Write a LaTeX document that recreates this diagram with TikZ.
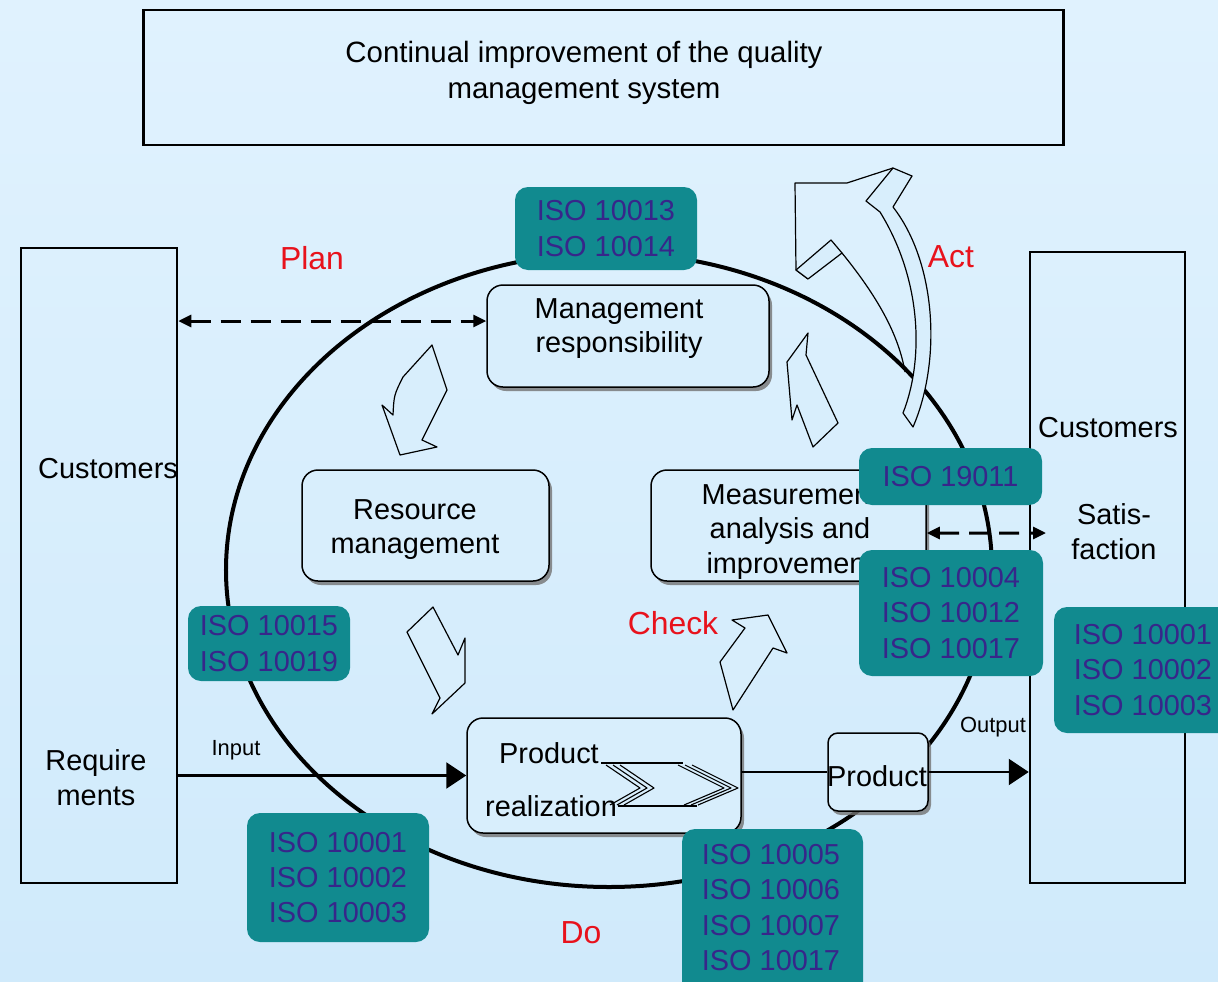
\documentclass[tikz,border=0pt]{standalone}
\usepackage{fontspec}
\setmainfont{Liberation Sans}
\usetikzlibrary{arrows.meta,shadows}
\definecolor{bgtop}{RGB}{224,242,254}
\definecolor{bgbot}{RGB}{208,234,251}
\definecolor{bgmid}{RGB}{216,238,252}
\definecolor{tealbox}{RGB}{17,138,143}
\definecolor{isotext}{RGB}{55,38,138}
\definecolor{pdcared}{RGB}{232,18,28}
\begin{document}
\begin{tikzpicture}[x=1bp,y=-1bp,
  isobox/.style={fill=tealbox,rounded corners=13bp,text=isotext,font=\fontsize{29}{35.5}\selectfont,align=center,inner sep=0pt},
  procbox/.style={draw=black,line width=1.5bp,fill=bgmid,rounded corners=16bp,inner sep=0pt,
    drop shadow={shadow xshift=3bp,shadow yshift=-4bp,fill=black!55,opacity=0.8}},
  plaintxt/.style={font=\fontsize{29}{35}\selectfont,align=center,inner sep=0pt},
  isotxt/.style={font=\fontsize{29}{35.5}\selectfont,text=isotext,align=center,inner sep=0pt},
  smalllbl/.style={font=\fontsize{22}{26}\selectfont,inner sep=0pt},
  phaselbl/.style={font=\fontsize{32}{38}\selectfont,text=pdcared,inner sep=0pt},
  custbox/.style={draw=black,line width=2.5bp,inner sep=0pt},
  hollowarrow/.style={draw=black,line width=1.2bp,fill=bgmid,line join=round},
  bigtip/.style={-{Triangle[length=20bp,width=26bp]}},
  dashtip/.style={{Triangle[length=13bp,width=12bp]}-{Triangle[length=13bp,width=12bp]},dash pattern=on 20bp off 10bp,line width=3bp},
]
\useasboundingbox (0,0) rectangle (1218,982);
\clip (0,0) rectangle (1218,982);
\shade[top color=bgtop,bottom color=bgbot] (0,0) rectangle (1218,982);

% top box
\node[draw=black,line width=2.5bp,minimum width=920bp,minimum height=135bp,inner sep=0pt] (topbox) at (603.5,77.5) {};
\node[font=\fontsize{29.5}{36}\selectfont,align=center,inner sep=0pt] (toptext) at (584,73) {Continual improvement of the quality\\management system};

% customers boxes
\node[custbox,minimum width=156bp,minimum height=635bp] (custL) at (99,565.5) {};
\node[custbox,minimum width=155bp,minimum height=631bp] (custR) at (1107.5,567.5) {};
\node[plaintxt] (custLtxt) at (108,469) {Customers};
\node[plaintxt] (reqtxt) at (96,778) {Require\\ments};
\node[plaintxt] (custRtxt) at (1108,428) {Customers};
\node[plaintxt] (satistxt) at (1114,532) {Satis-\\faction};

% cycle
\draw[line width=4bp] (609,570) ellipse [x radius=383bp,y radius=317bp];

% Act arrow (3D curved arrow)
\draw[line width=1.2bp,line join=round] (893,168) -- (847,183) -- (795,183) -- (796,270) -- (808,279);
\filldraw[hollowarrow] (796,270) -- (831,240) -- (842,253) -- (808,279) -- cycle;
\draw[line width=1.2bp] (842,253) .. controls (872,290) and (898,330) .. (905,372);
\filldraw[hollowarrow] (903,413) .. controls (924,360) and (922,280) .. (880,212) -- (866,201) -- (893,168) -- (912,176) -- (893,207) .. controls (936,262) and (942,360) .. (913,427) -- cycle;

% cycle arrows
\filldraw[hollowarrow] (432,345) -- (447,390) -- (422,440) -- (437,447) -- (400,455) -- (382,405) -- (393,415) .. controls (394,395) .. (403,377) -- cycle;
\filldraw[hollowarrow] (808,333) -- (787,362) -- (792,420) -- (797,405) -- (813,447) -- (838,423) -- (806,355) -- cycle;
\filldraw[hollowarrow] (433,607) -- (407,632) -- (440,698) -- (432,714) -- (465,683) -- (465,638) -- (458,655) -- cycle;
\filldraw[hollowarrow] (733,710) -- (720,662) -- (745,628) -- (732,620) -- (768,615) -- (787,653) -- (773,648) -- cycle;

% process boxes
\node[procbox,minimum width=282bp,minimum height=102bp] (mgmt) at (628,336) {};
\node[plaintxt] (mgmttxt) at (619,328.5) {Management\\responsibility};
\node[procbox,minimum width=247bp,minimum height=111bp] (resmgmt) at (425.5,525.5) {};
\node[plaintxt] (restxt) at (415,529.5) {Resource\\management};
\node[procbox,minimum width=275bp,minimum height=111bp] (meas) at (788.5,525.5) {};
\node[plaintxt] (meastxt) at (790,532) {Measurement\\analysis and\\improvement};
\node[procbox,minimum width=274bp,minimum height=115bp] (prodreal) at (604,775.5) {};
\node[plaintxt] (prtxt1) at (549,753) {Product};
\node[plaintxt] (prtxt2) at (551,806) {realization};
\node[procbox,rounded corners=10bp,minimum width=100bp,minimum height=78bp] (product) at (878,772) {};
\node[plaintxt] (prodtxt) at (877,776) {Product};

% chevrons inside product realization
\draw[line width=2bp] (601,763) -- (683,763);
\draw[line width=2bp] (618,806) -- (697,806);
\foreach \d in {0,7,14} {
  \draw[line width=1.1bp,line join=round] (606+\d,765) -- (640+\d,788) -- (610+\d,805);
  \draw[line width=1.1bp,line join=round] (678+\d,765) -- (724+\d,788) -- (684+\d,805);
}

% ISO boxes
\node[isobox,minimum width=182bp,minimum height=83bp] (iso1314) at (606,228.5) {ISO 10013\\ISO 10014};
\node[isobox,minimum width=183bp,minimum height=57bp] (iso19011) at (950.5,476.5) {ISO 19011};
\node[isobox,minimum width=184bp,minimum height=126bp] (iso4) at (951,613) {ISO 10004\\ISO 10012\\ISO 10017};
\node[isobox,minimum width=162bp,minimum height=75bp] (iso1519) at (269,643.5) {ISO 10015\\ISO 10019};
\node[isobox,minimum width=182bp,minimum height=129bp] (isoL) at (338,877.5) {ISO 10001\\ISO 10002\\ISO 10003};
\node[isobox,minimum width=181bp,minimum height=166bp] (iso5) at (772.5,912) {};
\node[isotxt] (iso5txt) at (771,907.5) {ISO 10005\\ISO 10006\\ISO 10007\\ISO 10017};
\node[isobox,minimum width=200bp,minimum height=126bp] (isoR) at (1154,670) {};
\node[isotxt] (isoRtxt) at (1143,670) {ISO 10001\\ISO 10002\\ISO 10003};

% connectors
\draw[line width=2.5bp,bigtip] (custL.east |- prodreal.west) -- (prodreal.west);
\draw[line width=1.5bp] (prodreal.east |- product.west) -- (product.west);
\draw[line width=2.5bp,bigtip] (product.east) -- (product.east -| custR.west);
\path (mgmt.west) ++(0,-15) coordinate (mgmtin);
\draw[dashtip] (custL.east |- mgmtin) -- (mgmtin);
\path (meas.east) ++(0,7.5) coordinate (measout);
\coordinate (satisin) at (1046,533);
\draw[dashtip] (measout) -- (satisin);

% labels
\node[smalllbl] (inlbl) at (236,750) {Input};
\node[smalllbl] (outlbl) at (993,727) {Output};
\node[phaselbl] (plan) at (312,258) {Plan};
\node[phaselbl] (act) at (951,257) {Act};
\node[phaselbl] (check) at (673,623) {Check};
\node[phaselbl] (do) at (581,933) {Do};
\end{tikzpicture}
\end{document}
